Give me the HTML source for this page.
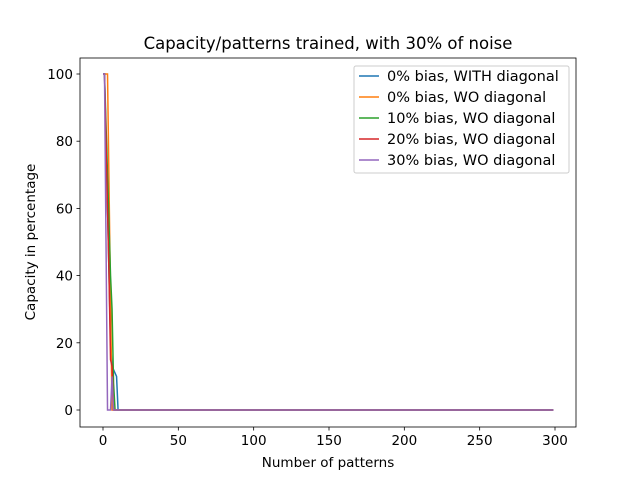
<!DOCTYPE html>
<html><head><meta charset="utf-8"><style>
body{margin:0;background:#fff;font-family:"Liberation Sans","DejaVu Sans",sans-serif}
</style></head><body>
<svg width="640" height="480" xmlns="http://www.w3.org/2000/svg" font-family="DejaVu Sans, Liberation Sans, sans-serif">
<g id="plot"></g>
</svg>
<script>
const xs=[0,1,2,3,4,5,6,7,8,9,10,299];
const sBlue=[100,100,80,60,40,20,13,12,11,10,0,0];
const sOrange=[100,100,100,100,66.7,33,0,0,0,0,0,0];
const sGreen=[100,100,85,70,55,40,30,8,0,0,0,0];
const sRed=[100,100,80,60,40,15,13,0,0,0,0,0];
const sPurple=[100,100,50,0,0,0,10,0,0,0,0,0];
const xTicks=[0,50,100,150,200,250,300];
const yTicks=[0,20,40,60,80,100];
const labels=["0% bias, WITH diagonal","0% bias, WO diagonal","10% bias, WO diagonal","20% bias, WO diagonal","30% bias, WO diagonal"];
const colors=["#1f77b4","#ff7f0e","#2ca02c","#d62728","#9467bd"];
const series=[sBlue,sOrange,sGreen,sRed,sPurple];
const L=80,R=576,T=58,B=427;
const X=v=>103+(v-0)*(452/300);
const Y=v=>410-v*3.36;
const ns="http://www.w3.org/2000/svg";
const g=document.getElementById('plot');
function mk(t,a,txt){const e=document.createElementNS(ns,t);for(const k in a)e.setAttribute(k,a[k]);if(txt!==undefined)e.textContent=txt;g.appendChild(e);return e;}
series.forEach((s,i)=>{const p=mk('polyline',{points:s.map((v,j)=>X(xs[j])+','+Y(v)).join(' '),fill:'none',stroke:colors[i],'stroke-width':1.5});

});
const fr=mk('rect',{x:L,y:T,width:R-L,height:B-T,fill:'none',stroke:'#000','stroke-width':0.8});


xTicks.forEach(v=>{mk('line',{x1:X(v),x2:X(v),y1:B,y2:B+3.5,stroke:'#000','stroke-width':0.8});
const t=mk('text',{x:X(v),y:B+18,'text-anchor':'middle','font-size':13.5},v);

});
yTicks.forEach(v=>{mk('line',{x1:L-3.5,x2:L,y1:Y(v),y2:Y(v),stroke:'#000','stroke-width':0.8});
const t=mk('text',{x:L-7,y:Y(v)+5,'text-anchor':'end','font-size':13.5},v);

});
let t=mk('text',{x:328,y:49,'text-anchor':'middle','font-size':16.5},'Capacity/patterns trained, with 30% of noise');

t=mk('text',{x:328,y:467,'text-anchor':'middle','font-size':13.5},'Number of patterns');

t=mk('text',{x:35,y:242,'text-anchor':'middle','font-size':13.5,transform:'rotate(-90 35 242)'},'Capacity in percentage');

const lg=mk('rect',{x:354,y:66,width:215,height:107,fill:'#fff',stroke:'#ccc',rx:2});

labels.forEach((l,i)=>{const y=76+i*21;
mk('line',{x1:359,x2:379,y1:y,y2:y,stroke:colors[i],'stroke-width':1.5});
const e=mk('text',{x:387,y:y+5,'font-size':14.5},l);
});
</script>
</body></html>
